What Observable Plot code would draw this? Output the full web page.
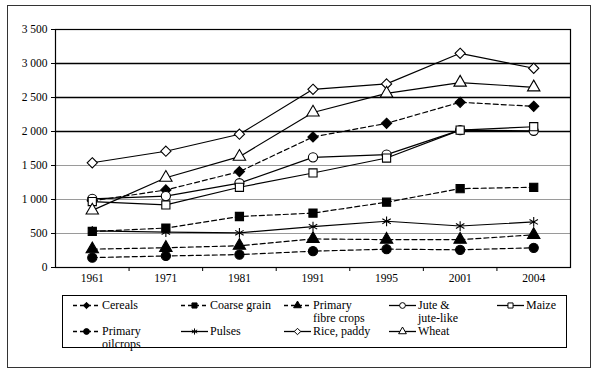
<!DOCTYPE html>
<html>
<head>
<meta charset="utf-8">
<script src="https://cdn.jsdelivr.net/npm/d3@7"></script>
<script src="https://cdn.jsdelivr.net/npm/@observablehq/plot@0.6"></script>
<style>
  html, body { margin: 0; padding: 0; background: #fff; }
  #wrap { position: relative; width: 600px; height: 374px; overflow: hidden; font-family: "Liberation Serif", "DejaVu Serif", serif; }
  #frame { position: absolute; left: 7px; top: 5px; width: 582px; height: 361px; border: 1.5px solid #333; }
  #chart { position: absolute; left: 0; top: 0; }
  #chart svg text { font-family: "Liberation Serif", "DejaVu Serif", serif; }
  #legend { position: absolute; left: 62px; top: 295px; width: 503px; height: 51px; border: 1.5px solid #000; }
  .item { position: absolute; font-size: 12px; line-height: 12.5px; color: #000; }
  .item svg { position: absolute; left: 0; top: 0; }
  .item span { position: absolute; left: 30px; top: 0; white-space: nowrap; }
</style>
</head>
<body>
<div id="wrap">
  <div id="frame"></div>
  <div id="chart"></div>
  <div id="legend"></div>
</div>
<script>
// ---- data ----
const years = ["1961", "1971", "1981", "1991", "1995", "2001", "2004"];
const cereals     = [980, 1140, 1410, 1920, 2120, 2430, 2370];
const coarseGrain = [530, 580, 750, 800, 960, 1160, 1180];
const fibreCrops  = [270, 290, 320, 420, 410, 410, 480];
const jute        = [1010, 1050, 1240, 1620, 1660, 2020, 2010];
const maize       = [970, 920, 1180, 1390, 1610, 2020, 2070];
const oilcrops    = [145, 170, 190, 240, 270, 260, 290];
const pulses      = [540, 520, 510, 600, 680, 610, 670];
const rice        = [1540, 1710, 1960, 2620, 2700, 3150, 2930];
const wheat       = [840, 1320, 1630, 2280, 2560, 2720, 2650];
const yTicks = [0, 500, 1000, 1500, 2000, 2500, 3000, 3500];
const gridLight = [500, 1000, 1500];
const gridDark = [2000, 2500, 3000];

const seriesNames = ["Cereals", "Coarse grain", "Primary fibre crops", "Jute & jute-like", "Maize",
                     "Primary oilcrops", "Pulses", "Rice, paddy", "Wheat"];
const legendLabels = [["Cereals"], ["Coarse grain"], ["Primary", "fibre crops"], ["Jute &", "jute-like"], ["Maize"],
                      ["Primary", "oilcrops"], ["Pulses"], ["Rice, paddy"], ["Wheat"]];
const seriesValues = [cereals, coarseGrain, fibreCrops, jute, maize, oilcrops, pulses, rice, wheat];
const seriesDashed = [true, true, true, false, false, true, false, false, false];
const seriesSymbol = ["diamond2", "square", "triangle", "circle", "square", "circle", "asterisk", "diamond2", "triangle"];
const seriesFill   = ["black", "black", "black", "white", "white", "black", "none", "white", "white"];

// ---- build table ----
const rows = [];
seriesNames.forEach((name, s) => {
  seriesValues[s].forEach((v, i) => {
    rows.push({series: name, i, v, dashed: seriesDashed[s], symbol: seriesSymbol[s], fill: seriesFill[s]});
  });
});

const fmt = v => v >= 1000 ? `${Math.floor(v / 1000)} ${String(v % 1000).padStart(3, "0")}` : `${v}`;
const boundaries = d3.range(0.5, years.length - 1, 1);

const chart = Plot.plot({
  width: 600,
  height: 290,
  marginLeft: 55,
  marginRight: 30,
  marginTop: 29,
  marginBottom: 23,
  style: {fontFamily: "'Liberation Serif', 'DejaVu Serif', serif", fontSize: "11.5px", color: "#000", background: "transparent"},
  x: {type: "linear", domain: [-0.5, years.length - 0.5]},
  y: {domain: [0, 3500]},
  marks: [
    Plot.ruleY(gridLight, {stroke: "#9a9a9a", strokeWidth: 1}),
    Plot.ruleY(gridDark, {stroke: "#000", strokeWidth: 1.3}),
    Plot.frame({stroke: "#000", strokeWidth: 1.2}),
    Plot.axisY({ticks: yTicks, tickFormat: fmt, tickSize: 4, tickPadding: 4, label: null, fill: "#000", stroke: "#000"}),
    Plot.axisX({ticks: d3.range(years.length), tickFormat: i => years[i], tickSize: 0, tickPadding: 6, label: null, fill: "#000"}),
    Plot.axisX({ticks: boundaries, tickFormat: () => "", tickSize: 4, label: null, stroke: "#000"}),
    Plot.line(rows.filter(d => !d.dashed), {x: "i", y: "v", z: "series", stroke: "#000", strokeWidth: 1.2}),
    Plot.line(rows.filter(d => d.dashed), {x: "i", y: "v", z: "series", stroke: "#000", strokeWidth: 1.2, strokeDasharray: "5,3"}),
    Plot.dot(rows, {x: "i", y: "v", symbol: "symbol", fill: "fill", stroke: "#000", strokeWidth: 1.1, r: 4.6})
  ]
});
document.getElementById("chart").appendChild(chart);

// ---- legend ----
const legend = d3.select("#legend");
const colX = [9, 117, 220, 325, 433];
const rowY = [3, 29];
seriesNames.forEach((name, s) => {
  const col = s < 5 ? s : s - 5;
  const row = s < 5 ? 0 : 1;
  const item = legend.append("div").attr("class", "item")
    .style("left", colX[col] + "px").style("top", rowY[row] + "px");
  const svg = item.append("svg").attr("width", 29).attr("height", 12);
  svg.append("line").attr("x1", 1).attr("x2", 28).attr("y1", 6.5).attr("y2", 6.5)
    .attr("stroke", "#000").attr("stroke-width", 1.3)
    .attr("stroke-dasharray", seriesDashed[s] ? "4,3" : null);
  const symMap = {diamond2: d3.symbolDiamond2, square: d3.symbolSquare, triangle: d3.symbolTriangle,
                  circle: d3.symbolCircle, asterisk: d3.symbolAsterisk};
  svg.append("path").attr("d", d3.symbol(symMap[seriesSymbol[s]], 26)())
    .attr("transform", "translate(14.5,6.5)")
    .attr("fill", seriesFill[s]).attr("stroke", "#000").attr("stroke-width", 1);
  item.append("span").html(legendLabels[s].join("<br>"));
});
</script>
</body>
</html>
